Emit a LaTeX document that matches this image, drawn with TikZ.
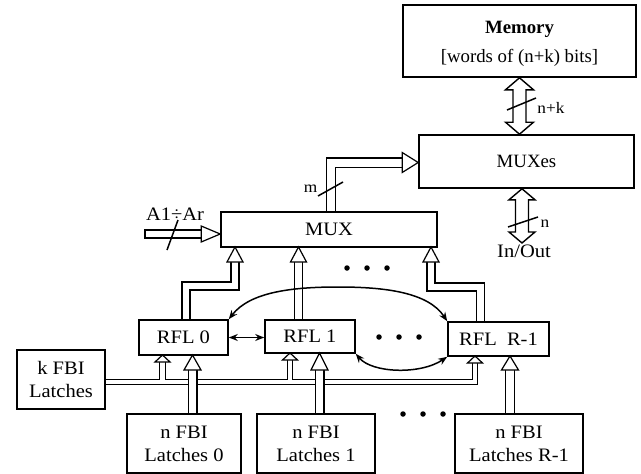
\documentclass[tikz,border=0pt]{standalone}
\usepackage{fontspec}
\setmainfont[FakeStretch=1.08]{Liberation Serif}
\newfontfamily\plainrm{Liberation Serif}
\usetikzlibrary{calc,arrows.meta}
\newcommand\dblhollow[5]{%
  \draw[hollow] (#1) -- ++(#3,#4) -- ++(-#3+#5,0) -- ($(#2)+(#5,-#4)$) -- ++(#3-#5,0) -- (#2)
    -- ++(-#3,-#4) -- ++(#3-#5,0) -- ($(#1)+(-#5,#4)$) -- ++(-#3+#5,0) -- cycle;}
\begin{document}
\begin{tikzpicture}[x=1pt,y=-1pt,
  box/.style={draw,line width=1.6pt,inner sep=0pt,align=center,font=\fontsize{19}{23}\selectfont},
  pbox/.style={box,font=\plainrm\fontsize{18.8}{23}\selectfont},
  bus/.style={double,double distance=6.8pt,line width=1.2pt,line join=miter},
  nbus/.style={bus,double distance=7.6pt},
  kbus/.style={bus,double distance=4.2pt},
  headst/.style={draw,fill=white,line width=1.2pt,line join=miter},
  hollow/.style={draw,fill=white,line width=1.4pt,line join=miter},
  curv/.style={line width=1.5pt,{Stealth[length=9pt,width=7pt]}-{Stealth[length=9pt,width=7pt]}},
  lab/.style={inner sep=0pt,font=\fontsize{19}{23}\selectfont},
  small/.style={inner sep=0pt,font=\fontsize{16}{18}\selectfont},
  slash/.style={line width=1.5pt},
  bdot/.style={circle,fill,inner sep=0pt,minimum size=5.5pt}
]
\useasboundingbox (0,0) rectangle (641,474);

% boxes
\node[pbox,minimum width=233,minimum height=72] (memory) at (519.5,41) {\rule{0pt}{18pt}\textbf{Memory}\\[6pt]{[}words of (n+k) bits{]}};
\node[pbox,minimum width=215,minimum height=53] (muxes) at (526.5,161.5) {MUXes};
\node[box,minimum width=216,minimum height=35] (mux) at (329,229.5) {MUX};
\node[box,minimum width=89,minimum height=35] (rfl0) at (183.5,337.5) {RFL 0};
\node[box,minimum width=90,minimum height=33] (rfl1) at (310,336.5) {RFL 1};
\node[box,minimum width=101,minimum height=34] (rflR) at (498.5,339) {RFL\ \ R-1};
\node[box,minimum width=88,minimum height=59] (kfbi) at (61,379.5) {k FBI\\Latches};
\node[box,minimum width=114,minimum height=59] (nl0) at (184,443.5) {n FBI\\Latches 0};
\node[box,minimum width=118,minimum height=59] (nl1) at (316,443.5) {n FBI\\Latches 1};
\node[box,minimum width=128,minimum height=59] (nlR) at (519,443.5) {n FBI\\Latches R-1};

% labels
\node[lab] (io) at (524,251) {In/Out};
\node[lab] (alab) at (175,214) {A1÷Ar};
\node[small] (mlab) at (310.5,188.5) {m};
\node[small] (nklab) at (551,108) {n+k};
\node[small] (nlab) at (545,223.5) {n};

% coordinates
\coordinate (m0) at (235,247);
\coordinate (m1) at (298.5,247);
\coordinate (m2) at (431,247);
\coordinate (k0) at (162.5,355);
\coordinate (k1) at (290,353);
\coordinate (k2) at (475,356);
\coordinate (ky) at (0,382);
\coordinate (n0) at (192.5,355);
\coordinate (n1) at (319.5,353);
\coordinate (n2) at (510,356);
\coordinate (a1) at (145,234);
\coordinate (mt) at (memory.south);
\coordinate (mb) at (mt |- muxes.north);
\path (muxes.south) ++(-4.5,0) coordinate (io1);
\coordinate (io2) at (522,243);

% RFL -> MUX buses
\draw[bus] ($(rfl0.north)+(2.5,0)$) |- ($(m0)+(0,39)$) -- ($(m0)+(0,15)$);
\draw[bus] (m1 |- rfl1.north) -- ($(m1)+(0,15)$);
\draw[bus] ($(rflR.north)+(-18,0)$) |- ($(m2)+(0,40)$) -- ($(m2)+(0,15)$);
\foreach \c in {m0,m1,m2} \draw[headst] (\c) -- ++(-8,15) -- ++(16,0) -- cycle;

% k FBI bus
\draw[kbus] (kfbi.east |- ky) -- (k2 |- ky) -- ($(k2)+(0,7)$)
  (k0 |- ky) -- ($(k0)+(0,7)$) (k1 |- ky) -- ($(k1)+(0,7)$);
\foreach \c in {k0,k1,k2} \draw[headst] (\c) -- ++(-7.5,7) -- ++(15,0) -- cycle;

% n FBI buses
\draw[nbus] (n0 |- nl0.north) -- ($(n0)+(0,15)$);
\draw[nbus] (n1 |- nl1.north) -- ($(n1)+(0,17)$);
\draw[nbus] (n2 |- nlR.north) -- ($(n2)+(0,14)$);
\foreach \c/\l in {n0/15,n1/17,n2/14} \draw[headst] (\c) -- ++(-8.5,\l) -- ++(17,0) -- cycle;

% m bus
\draw[bus,double distance=8pt] ($(mux.north)+(2,0)$) |- ($(muxes.west)+(-16,1)$);
\draw[headst] ($(muxes.west)+(0,1)$) -- ++(-16,-10) -- ++(0,20) -- cycle;

% A1..Ar bus
\draw[bus] (a1) -- ($(a1 -| mux.west)+(-19,0)$);
\draw[line width=1.2pt] ($(a1)+(0,-4.6)$) -- ($(a1)+(0,4.6)$);
\draw[headst] (a1 -| mux.west) -- ++(-19,-8) -- ++(0,16) -- cycle;

% bidirectional hollow arrows
\dblhollow{mt}{mb}{14}{12}{6.5}
\dblhollow{io1}{io2}{13}{11}{6.5}

% slashes
\draw[slash] (507,110) -- (536,98);
\draw[slash] (508,227) -- (538,217);
\draw[slash] (318,196) -- (343,182);
\draw[slash] (167,250) -- (178,220);

% RFL interconnections
\draw[curv] (rfl0.east) -- (rfl0.east -| rfl1.west);
\draw[curv] (rfl0.north east) .. controls (250,292) and (292,287) .. (338,287)
  .. controls (384,287) and (428,292) .. (rflR.north west);
\draw[curv] (rfl1.south east) .. controls (372,373) and (420,375) .. (rflR.south west);

% dots
\foreach \x [count=\i] in {347,367,387} \node[bdot] (da\i) at (\x,268) {};
\foreach \x [count=\i] in {379,399,419} \node[bdot] (db\i) at (\x,337) {};
\foreach \x [count=\i] in {403,423,443} \node[bdot] (dc\i) at (\x,414) {};
\end{tikzpicture}
\end{document}
